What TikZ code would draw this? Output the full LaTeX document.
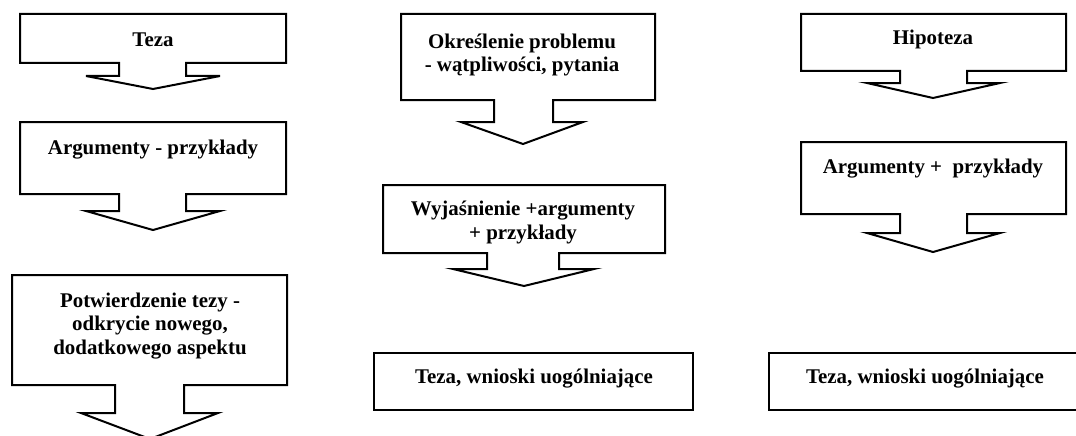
\documentclass[tikz,border=0pt]{standalone}
\usepackage{fontspec}
\setmainfont{Liberation Serif}
\begin{document}
\begin{tikzpicture}[x=1pt,y=-1pt,
  shapeline/.style={draw=black,line width=2pt,line join=miter,fill=white},
  label/.style={anchor=base,inner sep=0pt,align=center,
    font=\fontsize{20.9}{23.5}\selectfont\bfseries}]
\clip (0,0) rectangle (1076,436);
\fill[white] (0,0) rectangle (1076,436);
% left column
\draw[shapeline] (20,14) -- (286,14) -- (286,63) -- (186,63) -- (186,76) -- (220,76) -- (153,89) -- (86,76) -- (119,76) -- (119,63) -- (20,63) -- cycle;
\draw[shapeline] (20,122) -- (286,122) -- (286,194) -- (186,194) -- (186,211) -- (220,211) -- (153,230) -- (86,211) -- (119,211) -- (119,194) -- (20,194) -- cycle;
\draw[shapeline] (12,275) -- (287,275) -- (287,385) -- (184,385) -- (184,413) -- (218,413) -- (150,439) -- (81,413) -- (115,413) -- (115,385) -- (12,385) -- cycle;
% middle column
\draw[shapeline] (401,14) -- (655,14) -- (655,100) -- (553,100) -- (553,122) -- (583,122) -- (523,144) -- (461,122) -- (494,122) -- (494,100) -- (401,100) -- cycle;
\draw[shapeline] (383,185) -- (665,185) -- (665,253) -- (559,253) -- (559,269) -- (594,269) -- (524,286) -- (453,269) -- (487,269) -- (487,253) -- (383,253) -- cycle;
\draw[shapeline] (374,353) rectangle (693,410);
% right column
\draw[shapeline] (801,14) -- (1066,14) -- (1066,71) -- (967,71) -- (967,83) -- (1000,83) -- (933,98) -- (867,83) -- (900,83) -- (900,71) -- (801,71) -- cycle;
\draw[shapeline] (801,142) -- (1066,142) -- (1066,214) -- (967,214) -- (967,233) -- (1000,233) -- (933,252) -- (867,233) -- (900,233) -- (900,214) -- (801,214) -- cycle;
\draw[shapeline] (769,353) rectangle (1090,410);
% texts
\node[label] (teza) at (153,47) {Teza};
\node[label] (arg1) at (153,154) {Argumenty - przykłady};
\node[label] (potw) at (150,354) {Potwierdzenie tezy -\\odkrycie nowego,\\dodatkowego aspektu};
\node[label] (okr) at (522,72) {Określenie problemu\\- wątpliwości, pytania};
\node[label] (wyj) at (523,239) {Wyjaśnienie +argumenty\\+ przykłady};
\node[label] (teza2) at (534,383) {Teza, wnioski uogólniające};
\node[label] (hip) at (933,45) {Hipoteza};
\node[label] (arg2) at (933,173) {Argumenty +~~przykłady};
\node[label] (teza3) at (925,383) {Teza, wnioski uogólniające};
\end{tikzpicture}
\end{document}
